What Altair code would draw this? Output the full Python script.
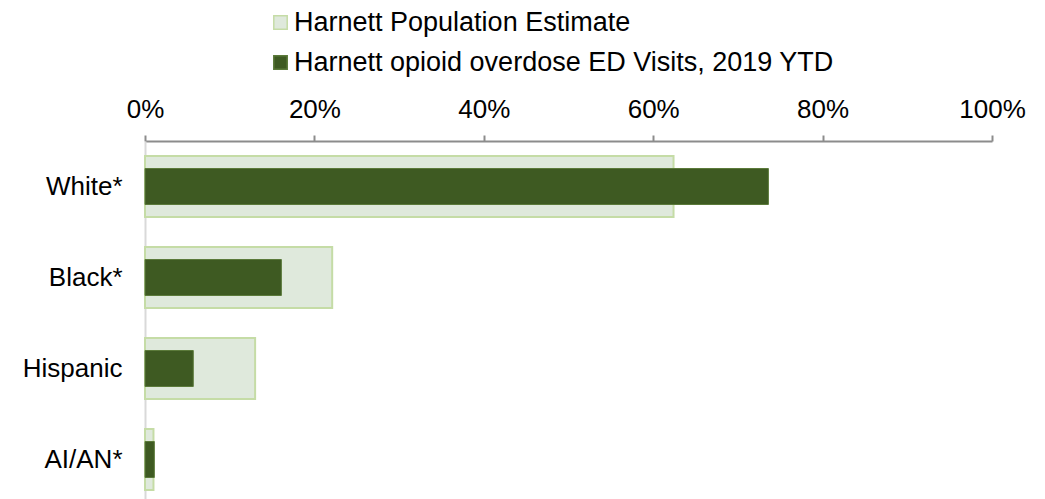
import altair as alt
import pandas as pd

categories = ["White*", "Black*", "Hispanic", "AI/AN*"]
series_names = ["Harnett Population Estimate", "Harnett opioid overdose ED Visits, 2019 YTD"]
population = [0.624, 0.221, 0.130, 0.010]
ed_visits = [0.736, 0.161, 0.057, 0.011]
tick_values = [0, 0.2, 0.4, 0.6, 0.8, 1.0]

rows = []
for c, p, e in zip(categories, population, ed_visits):
    rows.append({"group": c, "series": series_names[0], "value": p})
    rows.append({"group": c, "series": series_names[1], "value": e})
df = pd.DataFrame(rows)

FONT = "Liberation Sans"
FS = 26

color_scale = alt.Scale(domain=series_names, range=["#dfe9dc", "#3e5a22"])
stroke_scale = alt.Scale(domain=series_names, range=["#c5dca6", "#5b7a3a"])

x_enc = alt.X("value:Q",
              scale=alt.Scale(domain=[0, 1], nice=False),
              axis=alt.Axis(orient="top", format=".0%", values=tick_values,
                            grid=False, title=None, domainColor="#8c8c8c",
                            domainWidth=2, tickColor="#8c8c8c", tickWidth=2,
                            tickSize=6, labelFontSize=FS, labelFont=FONT,
                            labelColor="#000000", labelPadding=13,
                            labelFlush=False))
y_enc = alt.Y("group:N", sort=categories,
              scale=alt.Scale(paddingInner=0.33, paddingOuter=0.165),
              axis=alt.Axis(title=None, ticks=False, domainColor="#d9d9d9",
                            domainWidth=2, labelFontSize=FS, labelFont=FONT,
                            labelColor="#000000", labelPadding=23))
legend = alt.Legend(title=None, orient="none", legendX=122, legendY=-132,
                    direction="vertical", labelFontSize=27, labelFont=FONT,
                    labelColor="#000000", symbolType="square", symbolSize=180,
                    symbolStrokeWidth=1.5, rowPadding=12, labelOffset=0,
                    labelLimit=1000)

base = alt.Chart(df)

light = base.transform_filter(alt.datum.series == series_names[0]).mark_bar(
    strokeWidth=2).encode(
    x=x_enc, y=y_enc,
    color=alt.Color("series:N", scale=color_scale, legend=legend),
    stroke=alt.Stroke("series:N", scale=stroke_scale, legend=legend),
)
dark = base.transform_filter(alt.datum.series == series_names[1]).mark_bar(
    size=36, strokeWidth=1).encode(
    x=x_enc, y=y_enc,
    color=alt.Color("series:N", scale=color_scale, legend=legend),
    stroke=alt.Stroke("series:N", scale=stroke_scale, legend=legend),
)

chart = alt.layer(light, dark).properties(
    width=847, height=364,
    background="#ffffff",
    autosize=alt.AutoSizeParams(type="none"),
    padding={"left": 137, "top": 133, "right": 40, "bottom": 0},
).configure_view(stroke="transparent", strokeWidth=0)

chart.save("out.html", embed_options={"renderer": "svg", "actions": False})
